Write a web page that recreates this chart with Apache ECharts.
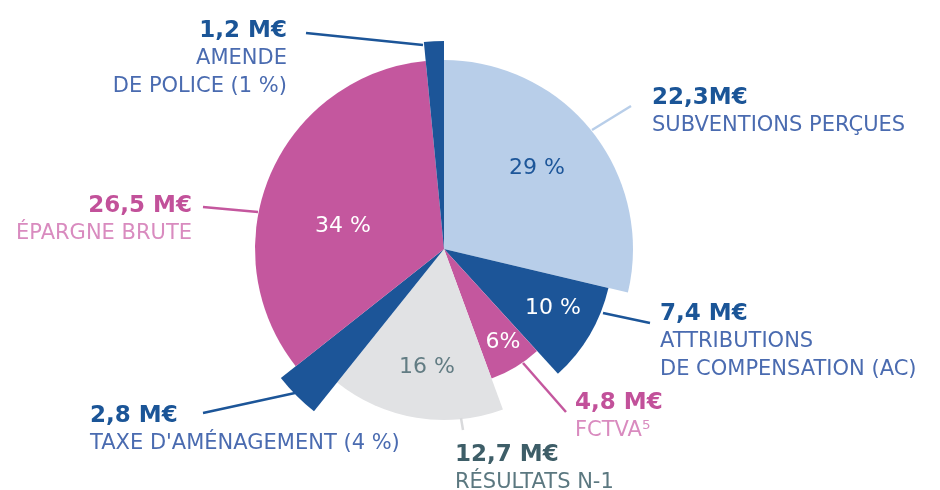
<!DOCTYPE html>
<html>
<head>
<meta charset="utf-8">
<script src="https://cdn.jsdelivr.net/npm/echarts@6/dist/echarts.min.js"></script>
<style>
html,body{margin:0;padding:0;background:#fff;}
#chart{width:940px;height:490px;}
</style>
</head>
<body>
<div id="chart"></div>
<script>
// ---- data ----
const categories = ['SUBVENTIONS PERÇUES', 'ATTRIBUTIONS\nDE COMPENSATION (AC)', 'FCTVA⁵', 'RÉSULTATS N-1', "TAXE D'AMÉNAGEMENT (4 %)", 'ÉPARGNE BRUTE', 'AMENDE\nDE POLICE (1 %)'];
const values = [22.3, 7.4, 4.8, 12.7, 2.8, 26.5, 1.2];
const valueLabels = ['22,3M€', '7,4 M€', '4,8 M€', '12,7 M€', '2,8 M€', '26,5 M€', '1,2 M€'];
const pctLabels = ['29 %', '10 %', '6%', '16 %', '', '34 %', ''];

// ---- styles / layout ----
const FONT = 'DejaVu Sans';
const CENTER = [444, 249];
const sliceColors = ['#b8cee9', '#1c5598', '#c4579e', '#e1e2e4', '#1c5598', '#c4579e', '#1c5598'];
const sliceRadius = [189, 169, 138, 171, 208, 189, 208];
const pctColors = ['#1d5699', '#ffffff', '#ffffff', '#627c83', '#ffffff', '#ffffff', '#ffffff'];
const pctPos = [[537, 168], [553, 308], [503, 342], [427, 367], [0, 0], [343, 226], [0, 0]];
const valColors = ['#1b5597', '#1b5597', '#c2519a', '#3e5e68', '#1b5597', '#c2519a', '#1b5597'];
const catColors = ['#4a6bb0', '#4a6bb0', '#d98bbf', '#5b7880', '#4a6bb0', '#d98bbf', '#4a6bb0'];
const lineColors = ['#b8cee9', '#1c5598', '#c4579e', '#d9dadc', '#1c5598', '#c4579e', '#1c5598'];
const outLayout = [
  {x: 652, y: 84, align: 'left', line: [[592, 130], [611.5, 118], [631, 106]]},
  {x: 660, y: 300, align: 'left', line: [[603, 313], [626.5, 318], [650, 323]]},
  {x: 575, y: 389, align: 'left', line: [[523, 363], [544.5, 387.5], [566, 412]]},
  {x: 455, y: 441, align: 'left', line: [[461, 418], [462, 424], [463, 430]]},
  {x: 90, y: 402, align: 'left', line: [[295, 393], [249, 403], [203, 413]]},
  {x: 192, y: 192, align: 'right', line: [[258, 212], [230.5, 209.5], [203, 207]]},
  {x: 287, y: 17, align: 'right', line: [[423, 45], [364.5, 39], [306, 33]]}
];

const series = [];
values.forEach((_, i) => {
  series.push({
    type: 'pie',
    silent: true,
    center: CENTER,
    radius: [0, sliceRadius[i]],
    startAngle: 90,
    clockwise: true,
    avoidLabelOverlap: false,
    z: 2,
    label: {show: false},
    labelLine: {show: false},
    emphasis: {disabled: true},
    data: values.map((v, j) => ({
      value: v,
      name: categories[j],
      itemStyle: {color: j === i ? sliceColors[i] : 'rgba(0,0,0,0)'},
      label: {
        show: j === i && pctLabels[i] !== '',
        position: 'inside',
        formatter: () => pctLabels[i],
        color: pctColors[i],
        fontFamily: FONT,
        fontSize: 22
      }
    })),
    labelLayout: (p) => (p.dataIndex === i ? {x: pctPos[i][0], y: pctPos[i][1], align: 'center', verticalAlign: 'middle'} : {})
  });
});

// outside labels with leader lines
series.push({
  type: 'pie',
  silent: true,
  center: CENTER,
  radius: [0, 150],
  startAngle: 90,
  clockwise: true,
  avoidLabelOverlap: false,
  z: 3,
  emphasis: {disabled: true},
  data: values.map((v, j) => ({
    value: v,
    name: categories[j],
    itemStyle: {color: 'rgba(0,0,0,0)'},
    label: {
      show: true,
      position: 'outside',
      formatter: () => '{v|' + valueLabels[j] + '}\n{c|' + categories[j] + '}',
      align: outLayout[j].align,
      rich: {
        v: {fontFamily: FONT, fontSize: 23, fontWeight: 'bold', color: valColors[j], lineHeight: 28, align: outLayout[j].align},
        c: {fontFamily: FONT, fontSize: 21, color: catColors[j], lineHeight: 28, align: outLayout[j].align}
      }
    },
    labelLine: {show: true, smooth: false, lineStyle: {color: lineColors[j], width: 2.5}}
  })),
  labelLayout: (p) => {
    const L = outLayout[p.dataIndex];
    return {x: L.x, y: L.y, align: L.align, verticalAlign: 'top', labelLinePoints: L.line};
  }
});

const chart = echarts.init(document.getElementById('chart'), null, {renderer: 'canvas'});
chart.setOption({animation: false, backgroundColor: '#ffffff', series: series});
</script>
</body>
</html>
